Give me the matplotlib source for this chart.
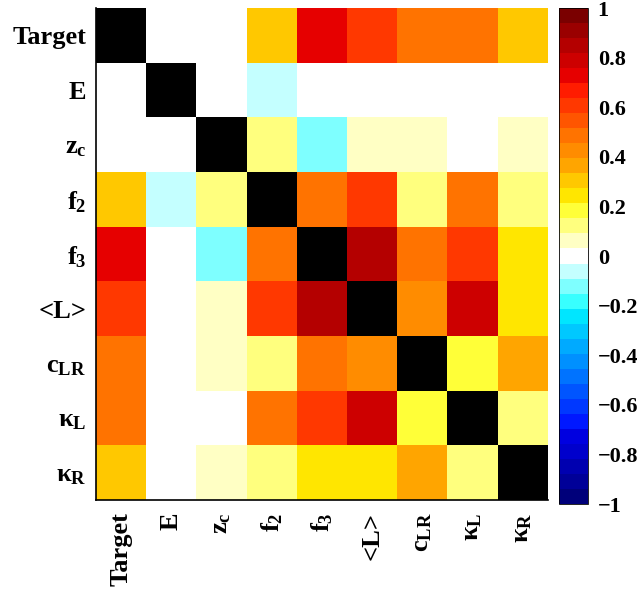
import numpy as np
import matplotlib
matplotlib.use("Agg")
import matplotlib.pyplot as plt
from matplotlib.colors import ListedColormap, BoundaryNorm

# -------------------------
# Data
# -------------------------
LABELS = ["Target", "E", "z$_\\mathrm{c}$", "f$_\\mathrm{2}$", "f$_\\mathrm{3}$",
          "<L>", "c$_\\mathrm{LR}$", "κ$_\\mathrm{L}$", "κ$_\\mathrm{R}$"]

# correlation matrix, rows top->bottom, cols left->right (diagonal = 1)
CORR = [
    [1.00, 0.00, 0.00, 0.30, 0.73, 0.61, 0.48, 0.48, 0.30],
    [0.00, 1.00, 0.00, -0.06, 0.00, 0.00, 0.00, 0.00, 0.00],
    [0.00, 0.00, 1.00, 0.12, -0.12, 0.06, 0.06, 0.00, 0.06],
    [0.30, -0.06, 0.12, 1.00, 0.48, 0.61, 0.12, 0.48, 0.12],
    [0.73, 0.00, -0.12, 0.48, 1.00, 0.85, 0.48, 0.61, 0.24],
    [0.61, 0.00, 0.06, 0.61, 0.85, 1.00, 0.42, 0.79, 0.24],
    [0.48, 0.00, 0.06, 0.12, 0.48, 0.42, 1.00, 0.18, 0.36],
    [0.48, 0.00, 0.00, 0.48, 0.61, 0.79, 0.18, 1.00, 0.12],
    [0.30, 0.00, 0.06, 0.12, 0.24, 0.24, 0.36, 0.12, 1.00],
]

CBAR_TICKS = [-1, -0.8, -0.6, -0.4, -0.2, 0, 0.2, 0.4, 0.6, 0.8, 1]
CBAR_TICKLABELS = ["\u22121", "\u22120.8", "\u22120.6", "\u22120.4", "\u22120.2",
                   "0", "0.2", "0.4", "0.6", "0.8", "1"]

# ROOT-like discrete palette, bottom (-1) to top (+1)
PALETTE = [
    "#00007a", "#000098", "#0000b0", "#0000cc", "#0000e0", "#0018ff", "#0038ff",
    "#0055ff", "#0073ff", "#0090ff", "#00aaff", "#00c8ff", "#00e6ff", "#38ffff",
    "#7effff", "#c4ffff", "#ffffff", "#ffffc4", "#ffff7e", "#ffff38", "#ffe600",
    "#ffc800", "#ffa500", "#ff8c00", "#ff7300", "#ff5500", "#ff3800", "#ff1c00",
    "#e60000", "#cd0000", "#b40000", "#9a0000", "#7a0000",
]

# -------------------------
# Style
# -------------------------
plt.rcParams["font.family"] = ["Liberation Serif", "DejaVu Serif"]
plt.rcParams["font.weight"] = "bold"
plt.rcParams["mathtext.fontset"] = "custom"
plt.rcParams["mathtext.rm"] = "Liberation Serif:bold"
plt.rcParams["mathtext.bf"] = "Liberation Serif:bold"
plt.rcParams["mathtext.it"] = "Liberation Serif:bold"

TICK_FS = 19
CBAR_FS = 16

corr = np.array(CORR)
n = len(LABELS)

cmap = ListedColormap(PALETTE)
bounds = np.linspace(-1, 1, len(PALETTE) + 1)
norm = BoundaryNorm(bounds, cmap.N)

fig = plt.figure(figsize=(6.4, 5.9), dpi=100, facecolor="white")
ax = fig.add_axes([96 / 640, 90 / 590, 452 / 640, 492 / 590])
cax = fig.add_axes([559 / 640, 86 / 590, 29 / 640, 496 / 590])

offdiag = np.ma.masked_where(np.eye(n, dtype=bool), corr)
diag = np.ma.masked_where(~np.eye(n, dtype=bool), corr)

im = ax.imshow(offdiag, cmap=cmap, norm=norm, aspect="auto",
               interpolation="nearest")
ax.imshow(diag, cmap=ListedColormap(["black"]), aspect="auto",
          interpolation="nearest")

ax.set_xticks(np.arange(n))
ax.set_yticks(np.arange(n))
ax.set_xticklabels(LABELS, rotation=90, fontsize=TICK_FS, fontweight="bold")
ax.set_yticklabels(LABELS, fontsize=TICK_FS, fontweight="bold")
ax.tick_params(axis="both", length=0)
ax.tick_params(axis="x", pad=9)
ax.tick_params(axis="y", pad=7)
for side in ["top", "right"]:
    ax.spines[side].set_visible(False)
ax.spines["left"].set_linewidth(1.2)
ax.spines["bottom"].set_linewidth(1.2)

cb = fig.colorbar(im, cax=cax, ticks=CBAR_TICKS)
cb.ax.minorticks_off()
cb.ax.set_yticklabels(CBAR_TICKLABELS, fontsize=CBAR_FS, fontweight="bold")
cb.ax.tick_params(length=0, pad=7)
cb.outline.set_linewidth(0.6)

fig.savefig("out.png", dpi=100, facecolor="white")
